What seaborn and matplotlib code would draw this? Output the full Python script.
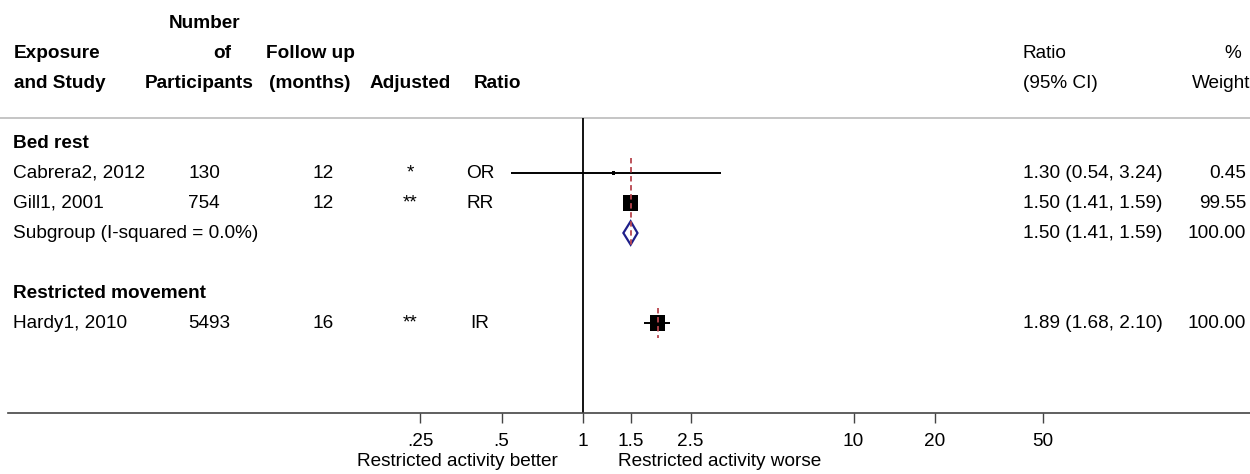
import numpy as np
import matplotlib
matplotlib.use("Agg")
import matplotlib.pyplot as plt
import matplotlib.transforms as mtransforms
import seaborn as sns

# study data
groups = ["Bed rest", "Bed rest", "Restricted movement"]
studies = ["Cabrera2, 2012", "Gill1, 2001", "Hardy1, 2010"]
participants = [130, 754, 5493]
follow_up = [12, 12, 16]
adjusted = ["*", "**", "**"]
ratio_type = ["OR", "RR", "IR"]
est = [1.30, 1.50, 1.89]
lo = [0.54, 1.41, 1.68]
hi = [3.24, 1.59, 2.10]
weight = [0.45, 99.55, 100.00]

# pooled subgroup (bed rest)
sub_label = "Subgroup (I-squared = 0.0%)"
sub_group = "Bed rest"
sub_est, sub_lo, sub_hi, sub_weight = 1.50, 1.41, 1.59, 100.00

tick_vals = [0.25, 0.5, 1, 1.5, 2.5, 10, 20, 50]
tick_labels = [".25", ".5", "1", "1.5", "2.5", "10", "20", "50"]
better_label = "Restricted activity better"
worse_label = "Restricted activity worse"

sns.set_theme(style="white")
plt.rcParams["font.family"] = ["Liberation Sans", "DejaVu Sans"]
plt.rcParams["text.color"] = "black"
FS = 13.7

W, H = 1250, 474
fig = plt.figure(figsize=(W / 100, H / 100), dpi=100)
ax = fig.add_axes([0, 0, 1, 1])
ax.set_xscale("log")

# pixel layout -> data limits (x=1 at 583px, 117.5 px per ln unit; rows 30px apart, row 0 at 143px)
x0, k = 583, 117.5
ax.set_xlim(np.exp(-x0 / k), np.exp((W - x0) / k))
row0, dy = 143, 30
ax.set_ylim((H - row0) / dy, -row0 / dy)

# build rows
rows = []
r = 0
study_rows = []
group_span = {}
for g in dict.fromkeys(groups):
    rows.append(("group", g, r))
    r += 1
    first = r
    for i, gg in enumerate(groups):
        if gg == g:
            study_rows.append(r)
            rows.append(("study", i, r))
            r += 1
    if g == sub_group:
        sub_row = r
        rows.append(("sub", None, r))
        r += 1
    group_span[g] = (first - 0.5, r - 0.5)
    r += 1
axis_row = 9.0
sep_row = -0.83

tr = mtransforms.blended_transform_factory(ax.transAxes, ax.transData)
def put(txt, px, row, ha="left", bold=False):
    ax.text(px / W, row, txt, transform=tr, ha=ha, va="center", fontsize=FS,
            fontweight="bold" if bold else "normal", color="black")

# headers
put("Number", 205, -4, "center", True)
put("Exposure", 14, -3, "left", True)
put("of", 222, -3, "center", True)
put("Follow up", 310, -3, "center", True)
put("and Study", 14, -2, "left", True)
put("Participants", 199, -2, "center", True)
put("(months)", 310, -2, "center", True)
put("Adjusted", 410, -2, "center", True)
put("Ratio", 474, -2, "left", True)
put("Ratio", 1023, -3, "left")
put("(95% CI)", 1023, -2, "left")
put("%", 1233, -3, "center")
put("Weight", 1250, -2, "right")

ax.axhline(sep_row, color="#c0c0c0", lw=1.3, zorder=1)

# row texts
for kind, p, rr in rows:
    if kind == "group":
        put(p, 13, rr, "left", True)
    elif kind == "study":
        put(studies[p], 13, rr)
        put(str(participants[p]), 188, rr)
        put(str(follow_up[p]), 312, rr)
        put(adjusted[p], 410, rr, "center")
        put(ratio_type[p], 480, rr, "center")
        put(f"{est[p]:.2f} ({lo[p]:.2f}, {hi[p]:.2f})", 1023, rr)
        put(f"{weight[p]:.2f}", 1246, rr, "right")
    else:
        put(sub_label, 13, rr)
        put(f"{sub_est:.2f} ({sub_lo:.2f}, {sub_hi:.2f})", 1023, rr)
        put(f"{sub_weight:.2f}", 1246, rr, "right")

# null line
ax.vlines(1, sep_row, axis_row, color="black", lw=1.3, zorder=2)

# confidence intervals and weighted squares
ax.hlines(study_rows, lo, hi, color="black", lw=1.4, zorder=3)
sns.scatterplot(x=est, y=study_rows, size=weight, sizes=(5, 120), marker="s",
                color="black", linewidth=0, legend=False, ax=ax, zorder=4)

# pooled diamond
dh = 0.39
ax.fill([sub_lo, sub_est, sub_hi, sub_est], [sub_row, sub_row - dh, sub_row, sub_row + dh],
        facecolor="white", edgecolor="#1f1f8a", lw=1.6, zorder=4)

# group estimate dashed lines
grp_est = {sub_group: sub_est}
for i, g in enumerate(groups):
    grp_est.setdefault(g, est[i])
for g, (a, b) in group_span.items():
    ax.vlines(grp_est[g], a, b, color="#b8454e", lw=1.3, linestyles=(0, (3, 2)), zorder=5)

# axis
for s in ["top", "left", "right"]:
    ax.spines[s].set_visible(False)
ax.spines["bottom"].set_position(("data", axis_row))
ax.spines["bottom"].set_bounds(np.exp((8 - x0) / k), np.exp((W - x0) / k))
ax.spines["bottom"].set_color("#444444")
ax.spines["bottom"].set_linewidth(1.2)
ax.xaxis.set_minor_locator(matplotlib.ticker.NullLocator())
ax.set_xticks(tick_vals)
ax.set_xticklabels(tick_labels)
ax.tick_params(axis="x", bottom=True, direction="out", length=7.2, width=1.0,
               color="#444444", labelsize=FS, pad=7, labelcolor="black")
ax.set_yticks([])
ax.grid(False)

ax.annotate(better_label, xy=(1, 10.62), xytext=(-25, 0), textcoords="offset pixels",
            ha="right", va="center", fontsize=FS, color="black")
ax.annotate(worse_label, xy=(1, 10.62), xytext=(35, 0), textcoords="offset pixels",
            ha="left", va="center", fontsize=FS, color="black")

fig.savefig("out.png", dpi=100)
